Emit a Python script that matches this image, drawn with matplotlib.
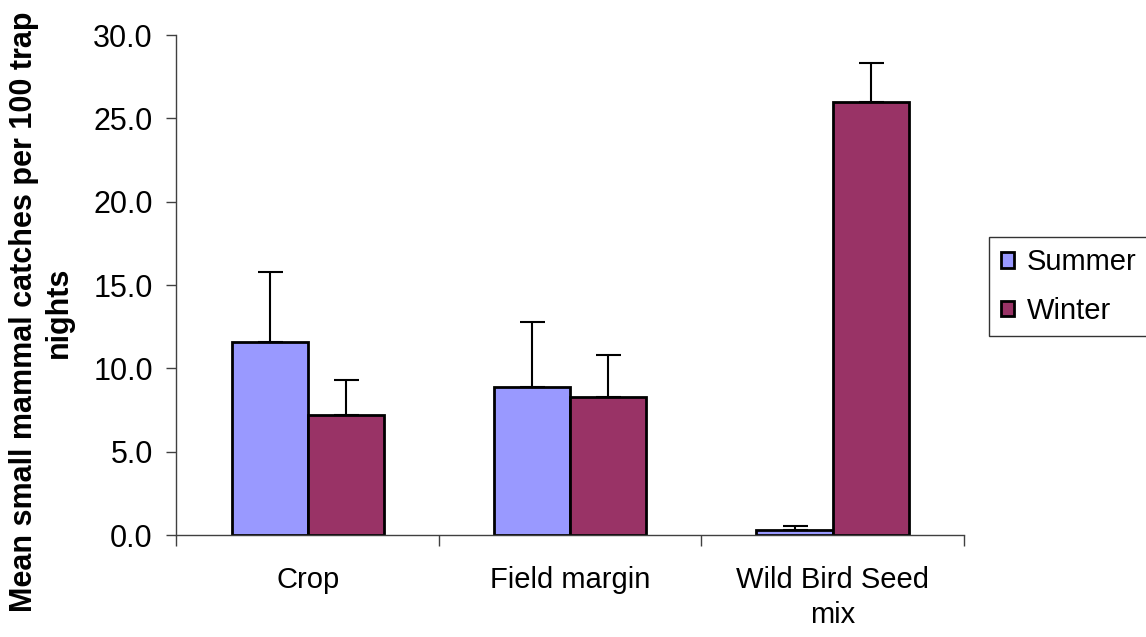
import numpy as np
import matplotlib
matplotlib.use("Agg")
import matplotlib.pyplot as plt

# data
categories = ["Crop", "Field margin", "Wild Bird Seed\nmix"]
summer = [11.6, 8.9, 0.3]
summer_err = [4.2, 3.9, 0.25]
winter = [7.2, 8.3, 26.0]
winter_err = [2.1, 2.5, 2.3]
y_ticks = [0, 5, 10, 15, 20, 25, 30]

plt.rcParams["font.family"] = ["Liberation Sans", "DejaVu Sans"]

fig = plt.figure(figsize=(11.46, 6.37), dpi=100)
ax = fig.add_axes([0.154, 0.160, 0.687, 0.785])

x = np.arange(len(categories)) + 0.5
w = 0.29

err_style = dict(ecolor="black", elinewidth=1.5, capsize=9, capthick=1.5)
ax.bar(x - w / 2, summer, w, color="#9999FF", edgecolor="black", linewidth=2,
       label="Summer", yerr=[np.zeros(3), summer_err], error_kw=err_style, zorder=2)
ax.bar(x + w / 2, winter, w, color="#993366", edgecolor="black", linewidth=2,
       label="Winter", yerr=[np.zeros(3), winter_err], error_kw=err_style, zorder=2)

ax.set_xlim(0, len(categories))
ax.set_ylim(0, 30)

ax.set_yticks(y_ticks)
ax.set_yticklabels([f"{v:.1f}" for v in y_ticks], fontsize=22)
ax.tick_params(axis="y", direction="out", length=7, width=1, color="#404040", pad=10)

# category boundary ticks, labels in the middle
ax.set_xticks(np.arange(len(categories) + 1))
ax.set_xticklabels([])
ax.set_xticks(x, minor=True)
ax.set_xticklabels(categories, minor=True, fontsize=21)
for t in ax.get_xticklabels(minor=True):
    t.set_linespacing(1.35)
ax.tick_params(axis="x", which="major", direction="out", length=8, width=1, color="#404040")
ax.tick_params(axis="x", which="minor", length=0, pad=22)

for s in ["top", "right"]:
    ax.spines[s].set_visible(False)
for s in ["left", "bottom"]:
    ax.spines[s].set_color("#404040")
    ax.spines[s].set_linewidth(1)

fig.text(0.036, 0.51, "Mean small mammal catches per 100 trap\nnights",
         rotation=90, ha="center", va="center", multialignment="center",
         fontsize=22, fontweight="bold")

leg = ax.legend(loc="upper left", bbox_to_anchor=(989 / 1146, 1 - 236.7 / 637),
                bbox_transform=fig.transFigure, fontsize=21, frameon=True,
                fancybox=False, edgecolor="black", borderaxespad=0,
                handlelength=0.45, handleheight=0.45, handletextpad=0.45,
                labelspacing=0.7, borderpad=0.4)
leg.get_frame().set_linewidth(1)

fig.savefig("out.png", dpi=100)
